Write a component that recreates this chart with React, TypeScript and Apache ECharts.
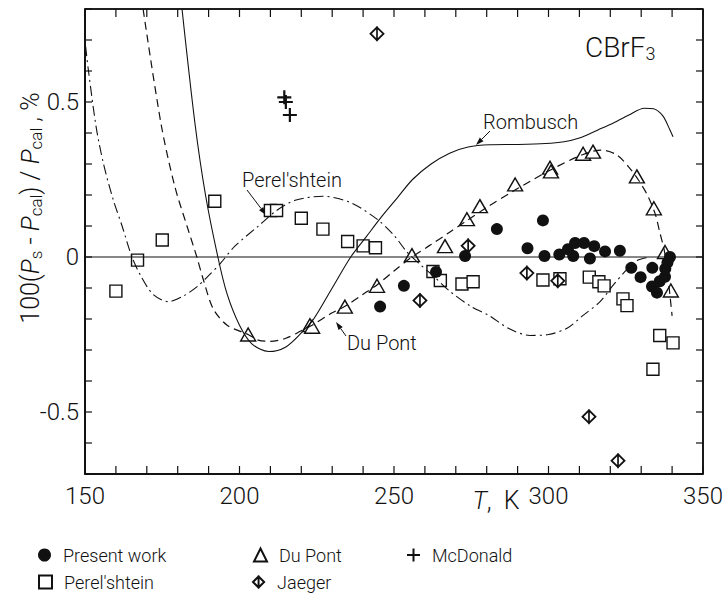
import React, { useEffect, useRef } from "react";
import * as echarts from "echarts";

// ---- Data (T in K, deviation in %) ----
const presentWork: [number, number][] = [
  [245.5, -0.16], [253.2, -0.093], [263.6, -0.048], [273, 0.003], [283.3, 0.09],
  [298.2, 0.118], [293.2, 0.028], [298.7, 0.003], [303.5, 0.008], [306.3, 0.025],
  [308, 0.003], [308.6, 0.045], [311.5, 0.045], [313.4, -0.005], [314.8, 0.035],
  [318.3, 0.018], [323.1, 0.02], [326.8, -0.035], [329.8, -0.065], [333.6, -0.035],
  [333.5, -0.095], [335.1, -0.115], [336, -0.078], [337.7, -0.064], [337.8, -0.038],
  [338.5, -0.018], [339.3, 0.0],
];
const perelshteinPts: [number, number][] = [
  [160, -0.11], [167, -0.01], [175, 0.055], [192, 0.18], [210, 0.15], [212, 0.15],
  [220, 0.125], [227, 0.09], [235, 0.05], [240, 0.036], [244, 0.03], [262.6, -0.047],
  [265, -0.076], [272, -0.087], [275.6, -0.08], [298.2, -0.074], [303.7, -0.07],
  [313.2, -0.065], [316.3, -0.08], [318, -0.093], [324.1, -0.135], [325.4, -0.157],
  [336, -0.253], [340.3, -0.277], [333.8, -0.362],
];
const duPontPts: [number, number][] = [
  [202.8, -0.25], [222.8, -0.22], [223.5, -0.225], [234.1, -0.16], [244.5, -0.093],
  [255.8, 0.006], [266.5, 0.035], [273.6, 0.122], [277.8, 0.164], [289.2, 0.234],
  [300.5, 0.288], [300.8, 0.276], [311.2, 0.333], [314.4, 0.34], [328.6, 0.26],
  [334.1, 0.157], [337.7, 0.016], [339.6, -0.108],
];
const jaegerPts: [number, number][] = [
  [244.5, 0.72], [258.4, -0.14], [274, 0.036], [293, -0.052], [303, -0.077],
  [313.1, -0.515], [322.5, -0.657],
];
const mcDonaldPts: [number, number][] = [
  [214.5, 0.515], [215, 0.5], [216.3, 0.458],
];
const rombuschCurve: [number, number][] = [
  [181.4, 0.8], [185.6, 0.43], [189, 0.2], [193, 0], [196, -0.12], [200, -0.22],
  [204, -0.28], [209.5, -0.305], [215, -0.29], [220, -0.245], [224, -0.2], [230, -0.1],
  [236, 0], [241, 0.065], [246, 0.13], [251, 0.19], [256, 0.25], [262, 0.3],
  [268, 0.335], [274, 0.355], [281, 0.362], [290, 0.363], [299, 0.366], [305, 0.372],
  [310, 0.384], [316, 0.41], [321, 0.432], [326, 0.458], [331, 0.48], [334, 0.478],
  [337, 0.455], [339.3, 0.41], [340.3, 0.388],
];
const duPontCurve: [number, number][] = [
  [168.8, 0.8], [174.6, 0.43], [179, 0.23], [183, 0.1], [186.2, 0], [188.2, -0.07],
  [191.5, -0.167], [196, -0.22], [202.8, -0.25], [206, -0.268], [210, -0.272],
  [215, -0.262], [220, -0.238], [223.5, -0.22], [230, -0.18], [234, -0.16], [240, -0.12],
  [244.5, -0.09], [250, -0.045], [255.8, 0.0], [262, 0.04], [268, 0.08], [274, 0.12],
  [280, 0.16], [289, 0.215], [300.5, 0.28], [311, 0.33], [317, 0.345], [322, 0.33],
  [326, 0.29], [329, 0.25], [332, 0.2], [334.5, 0.14], [336, 0.08], [337.5, 0.02],
  [338.5, -0.05], [340, -0.19],
];
const perelshteinCurve: [number, number][] = [
  [150.2, 0.68], [151, 0.61], [153.6, 0.42], [156, 0.3], [159.1, 0.186], [162, 0.1],
  [165.2, 0.0], [168, -0.06], [172, -0.12], [177, -0.144], [182, -0.125],
  [186.6, -0.093], [190, -0.06], [193.7, -0.022], [198.5, 0.035], [206, 0.099],
  [212, 0.15], [218, 0.183], [227, 0.196], [236, 0.175], [244.5, 0.122], [250, 0.07],
  [254.2, 0.016], [258, -0.02], [262.6, -0.06], [268, -0.11], [275, -0.16], [281, -0.19],
  [287, -0.23], [294, -0.253], [300, -0.25], [306, -0.23], [311, -0.19], [316.7, -0.144],
  [321, -0.09], [325.4, -0.04], [329, -0.01], [333, 0.0],
];
const zeroLine: [number, number][] = [[150, 0], [350, 0]];
const X_MIN = 150, X_MAX = 350, X_STEP = 10;
const Y_MIN = -0.7, Y_MAX = 0.8, Y_STEP = 0.1;
const xTickLabels = [150, 200, 250, 300, 350];
const yTickLabels = [-0.5, 0, 0.5];

const FONT = "Roboto";
const BLACK = "#111";

function arrow(x1: number, y1: number, x2: number, y2: number) {
  const ang = Math.atan2(y2 - y1, x2 - x1);
  const L = 8, W = 2.6;
  const bx = x2 - L * Math.cos(ang), by = y2 - L * Math.sin(ang);
  const px = -Math.sin(ang) * W, py = Math.cos(ang) * W;
  return [
    { type: "line", shape: { x1, y1, x2: bx, y2: by }, style: { stroke: BLACK, lineWidth: 1 } },
    {
      type: "polygon",
      shape: { points: [[x2, y2], [bx + px, by + py], [bx - px, by - py]] },
      style: { fill: BLACK },
    },
  ];
}

function txt(text: string, x: number, y: number, fontSize: number, extra: any = {}) {
  return {
    type: "text",
    x,
    y,
    ...extra,
    style: {
      text,
      fontSize,
      fontFamily: FONT,
      fontWeight: 300,
      fill: BLACK,
      align: "left",
      textAlign: "left",
      verticalAlign: "middle",
      textVerticalAlign: "middle",
      ...(extra.style || {}),
    },
  };
}

function seg(x1: number, y1: number, x2: number, y2: number, w = 1.2) {
  return { type: "line", shape: { x1, y1, x2, y2 }, style: { stroke: BLACK, lineWidth: w } };
}

export default function App() {
  const ref = useRef<HTMLDivElement>(null);
  useEffect(() => {
    const chart = echarts.init(ref.current!, null, { renderer: "svg" });
    const hollow = { color: "#fff", borderColor: BLACK, borderWidth: 1.4, opacity: 1 };
    const axisLine = { show: true, onZero: false, lineStyle: { color: BLACK, width: 1.6 } };
    const legend = (name: string, left: number, top: number) => ({
      data: [name],
      left,
      top,
      padding: 0,
      itemWidth: 13,
      itemHeight: 13,
      selectedMode: false,
      textStyle: {
        fontSize: 18,
        fontFamily: FONT,
        fontWeight: 300,
        color: BLACK,
        padding: [0, 0, 0, 7],
      },
    });
    const sub = { fontSize: 17, fontFamily: FONT, fontWeight: 300, fill: BLACK, padding: [12, 0, 0, 0] };
    const nrm = { fontSize: 25, fontFamily: FONT, fontWeight: 300, fill: BLACK };
    const ital = { ...nrm, fontStyle: "italic" };
    const option: any = {
      animation: false,
      grid: {
        left: 85,
        right: 23,
        top: 9,
        bottom: 119,
        show: true,
        borderColor: BLACK,
        borderWidth: 1.6,
        backgroundColor: "transparent",
      },
      xAxis: [
        {
          type: "value",
          position: "bottom",
          min: X_MIN,
          max: X_MAX,
          interval: X_STEP,
          axisLine,
          splitLine: { show: false },
          axisTick: { show: false },
          axisLabel: {
            margin: 10,
            fontSize: 24,
            fontFamily: FONT,
            fontWeight: 300,
            color: BLACK,
            formatter: (v: number) =>
              xTickLabels.includes(Math.round(v)) ? String(Math.round(v)) : "",
          },
        },
      ],
      yAxis: [
        {
          type: "value",
          position: "left",
          min: Y_MIN,
          max: Y_MAX,
          interval: Y_STEP,
          axisLine,
          splitLine: { show: false },
          axisTick: { show: false },
          axisLabel: {
            margin: 6,
            fontSize: 24,
            fontFamily: FONT,
            fontWeight: 300,
            color: BLACK,
            formatter: (v: number) => {
              const r = Math.round(v * 10) / 10;
              return yTickLabels.some((t) => Math.abs(t - r) < 1e-6) ? String(r) : "";
            },
          },
        },
      ],
      legend: [
        legend("Present work", 38, 546),
        legend("Du Pont", 253, 546),
        legend("McDonald", 406, 546),
        legend("Perel'shtein", 38, 573),
        legend("Jaeger", 252, 573),
      ],
      series: [
        {
          name: "zero",
          type: "line",
          data: zeroLine,
          symbol: "none",
          lineStyle: { color: BLACK, width: 1 },
        },
        {
          name: "Rombusch curve",
          type: "line",
          data: rombuschCurve,
          smooth: 0.3,
          symbol: "none",
          lineStyle: { color: BLACK, width: 1.1 },
        },
        {
          name: "Du Pont curve",
          type: "line",
          data: duPontCurve,
          smooth: 0.3,
          symbol: "none",
          lineStyle: { color: BLACK, width: 1.2, type: [8, 5] },
        },
        {
          name: "Perel'shtein curve",
          type: "line",
          data: perelshteinCurve,
          smooth: 0.3,
          symbol: "none",
          lineStyle: { color: BLACK, width: 1.1, type: [10, 4, 2, 4] },
        },
        {
          name: "Perel'shtein",
          type: "scatter",
          data: perelshteinPts,
          symbol: "rect",
          symbolSize: 12,
          itemStyle: hollow,
        },
        {
          name: "Du Pont",
          type: "scatter",
          data: duPontPts,
          symbol: "triangle",
          symbolSize: [15, 13],
          itemStyle: hollow,
        },
        {
          name: "Jaeger",
          type: "scatter",
          data: jaegerPts,
          symbol: "path://M0,1 L6,7 L0,13 L-6,7 Z M0,0 L0,14",
          symbolSize: [13, 15],
          itemStyle: { color: "#fff", borderColor: BLACK, borderWidth: 1.8, opacity: 1 },
        },
        {
          name: "McDonald",
          type: "scatter",
          data: mcDonaldPts,
          symbol: "path://M-7,0 L7,0 M0,-7 L0,7",
          symbolSize: 14,
          itemStyle: { color: BLACK, borderColor: BLACK, borderWidth: 2.2, opacity: 1 },
        },
        {
          name: "Present work",
          type: "scatter",
          data: presentWork,
          symbol: "circle",
          symbolSize: 12,
          itemStyle: { color: BLACK, opacity: 1 },
        },
      ],
    };
    chart.setOption(option);

    // Frame and inward ticks on all four sides, positioned through the chart's own scales.
    const px = (x: number, y: number) =>
      chart.convertToPixel({ xAxisIndex: 0, yAxisIndex: 0 }, [x, y]) as number[];
    const [l, b] = px(X_MIN, Y_MIN);
    const [r, t] = px(X_MAX, Y_MAX);
    const frame: any[] = [
      seg(l, t, r, t, 1.6),
      seg(r, t, r, b, 1.6),
      seg(l, b, r, b, 1.6),
      seg(l, t, l, b, 1.6),
    ];
    const nx = Math.round((X_MAX - X_MIN) / X_STEP);
    for (let i = 0; i <= nx; i++) {
      const [x] = px(X_MIN + i * X_STEP, 0);
      frame.push(seg(x, b, x, b - 8), seg(x, t, x, t + 8));
    }
    const ny = Math.round((Y_MAX - Y_MIN) / Y_STEP);
    for (let i = 0; i <= ny; i++) {
      const [, y] = px(X_MIN, Y_MIN + i * Y_STEP);
      frame.push(seg(l, y, l + 7, y), seg(r, y, r - 7, y));
    }

    chart.setOption({
      graphic: {
        elements: [
          ...frame,
          txt("{b|CBrF}{s|3}", 585, 47, 28, {
            style: {
              rich: {
                b: { fontSize: 28, fontFamily: FONT, fontWeight: 300, fill: BLACK },
                s: { fontSize: 18, fontFamily: FONT, fontWeight: 300, fill: BLACK, padding: [13, 0, 0, 0] },
              },
            },
          }),
          txt("Rombusch", 483, 122, 20),
          ...arrow(490, 131, 476, 145),
          txt("Perel'shtein", 242, 180, 20),
          ...arrow(247, 190, 266, 215),
          txt("Du Pont", 347, 343, 20),
          ...arrow(346, 336, 336, 322),
          txt(
            "{n|100(}{i|P}{sub|s}{n| - }{i|P}{sub|cal}{n|) / }{i|P}{sub|cal}{n| , %}",
            30,
            208,
            25,
            {
              rotation: Math.PI / 2,
              style: {
                align: "center",
                textAlign: "center",
                rich: { n: nrm, i: ital, sub },
              },
            }
          ),
          txt("{i|T}{n|,  K}", 496, 500, 24, {
            style: {
              align: "center",
              textAlign: "center",
              rich: { n: { ...nrm, fontSize: 25 }, i: { ...ital, fontSize: 25 } },
            },
          }),
        ],
      },
    });
    return () => chart.dispose();
  }, []);
  return (
    <div
      ref={ref}
      style={{ position: "fixed", left: 0, top: 0, width: 726, height: 593, background: "#fff" }}
    />
  );
}
